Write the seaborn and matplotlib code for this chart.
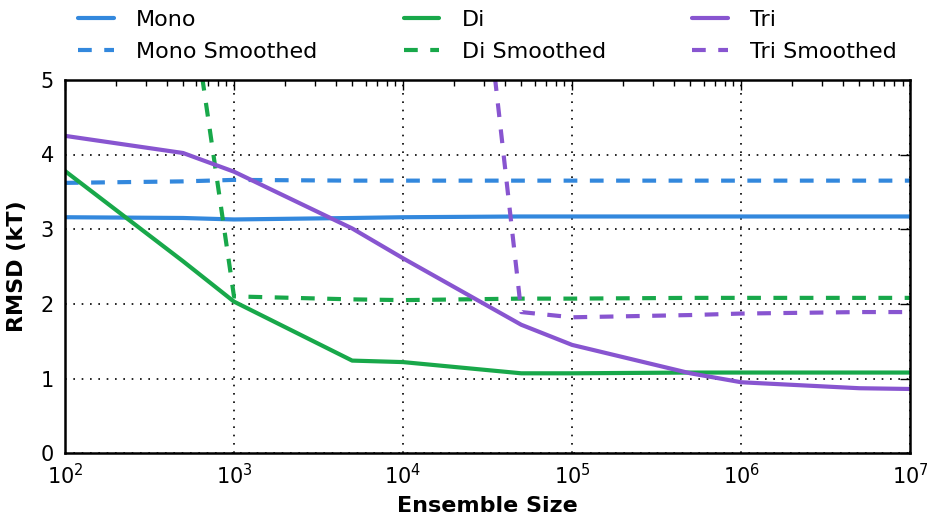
import numpy as np
import pandas as pd
import matplotlib
matplotlib.use("Agg")
import matplotlib.pyplot as plt
import seaborn as sns

sizes = [1e2, 5e2, 1e3, 5e3, 1e4, 5e4, 1e5, 5e5, 1e6, 5e6, 1e7]

mono = [3.16, 3.15, 3.13, 3.15, 3.16, 3.17, 3.17, 3.17, 3.17, 3.17, 3.17]
mono_smooth = [3.62, 3.64, 3.66, 3.65, 3.65, 3.65, 3.65, 3.65, 3.65, 3.65, 3.65]
di = [3.78, 2.57, 2.03, 1.24, 1.22, 1.07, 1.07, 1.08, 1.08, 1.08, 1.08]
di_smooth = [np.nan, 6.8, 2.10, 2.06, 2.05, 2.07, 2.07, 2.08, 2.08, 2.08, 2.08]
tri = [4.25, 4.02, 3.77, 3.01, 2.61, 1.72, 1.45, 1.07, 0.95, 0.87, 0.86]
tri_smooth = [np.nan, np.nan, np.nan, np.nan, 16.0, 1.89, 1.82, 1.85, 1.87, 1.89, 1.89]

series = [
    ("Mono", mono, "#3388dd", "-"),
    ("Mono Smoothed", mono_smooth, "#3388dd", (0, (3.3, 3.0))),
    ("Di", di, "#18a84a", "-"),
    ("Di Smoothed", di_smooth, "#18a84a", (0, (3.3, 3.0))),
    ("Tri", tri, "#8855d0", "-"),
    ("Tri Smoothed", tri_smooth, "#8855d0", (0, (3.3, 3.0))),
]

sns.set_style("white")
plt.rcParams["font.family"] = ["DejaVu Sans"]
plt.rcParams["text.color"] = "black"
plt.rcParams["axes.labelcolor"] = "black"
plt.rcParams["xtick.direction"] = "in"
plt.rcParams["ytick.direction"] = "in"

fig = plt.figure(figsize=(9.27, 5.15), dpi=100)
ax = fig.add_axes([0.070, 0.120, 0.912, 0.725])

for name, vals, color, ls in series:
    df = pd.DataFrame({"size": sizes, "rmsd": vals}).dropna()
    sns.lineplot(data=df, x="size", y="rmsd", ax=ax, color=color, linestyle=ls,
                 linewidth=3.0, label=name)

ax.set_xscale("log")
ax.set_xlim(1e2, 1e7)
ax.set_ylim(0, 5)
ax.set_yticks([0, 1, 2, 3, 4, 5])
ax.grid(True, which="major", color="black", linestyle=(0, (1, 4)), linewidth=1.2)
ax.tick_params(which="both", top=True, right=True, labelsize=15, colors="black")
ax.tick_params(which="major", length=7, width=1)
ax.tick_params(which="minor", length=4, width=1)
ax.tick_params(axis="x", pad=7)
ax.tick_params(axis="y", pad=8)
for sp in ax.spines.values():
    sp.set_color("black")
    sp.set_linewidth(1.8)

ax.set_xlabel("Ensemble Size", fontsize=16, fontweight="bold", labelpad=6)
ax.set_ylabel("RMSD (kT)", fontsize=16, fontweight="bold", labelpad=10)

ax.legend(ncol=3, loc="lower center", bbox_to_anchor=(0.5, 1.024), frameon=False,
          fontsize=16, handlelength=1.6, handletextpad=1.0, columnspacing=3.9,
          labelspacing=0.55, borderaxespad=0.0)

fig.savefig("out.png", dpi=100)
